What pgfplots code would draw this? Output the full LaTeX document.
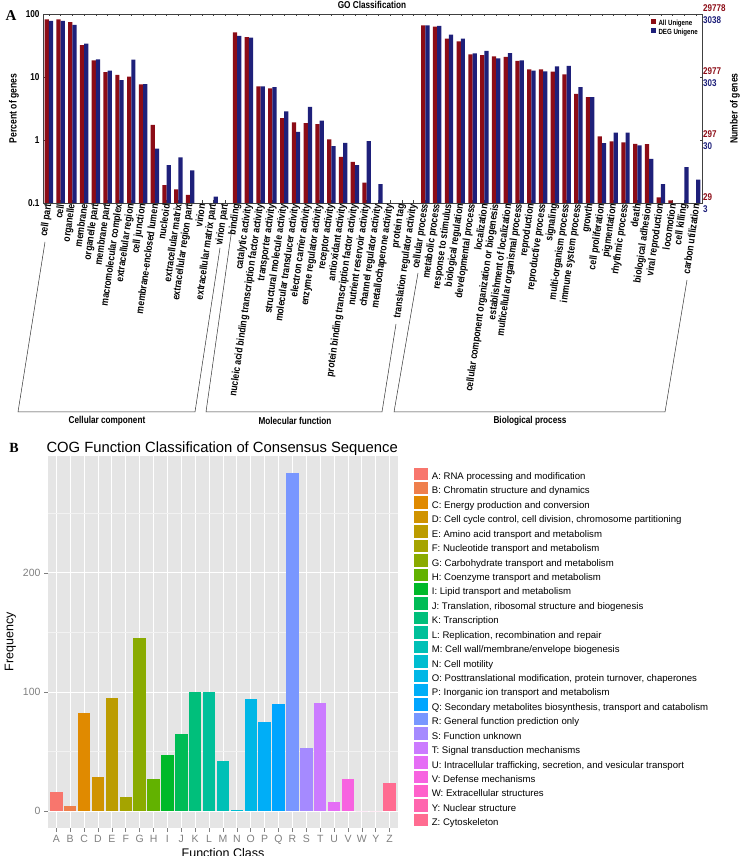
\documentclass[border=0pt]{standalone}
\usepackage{pgfplots}
\pgfplotsset{compat=1.18}
\usepackage{fontspec}
\setmainfont{Liberation Sans}
\newfontfamily\narrow[FakeStretch=0.82]{Liberation Sans}
\newfontfamily\serifA{Liberation Serif}
\definecolor{gored}{RGB}{140,12,22}
\definecolor{goblue}{RGB}{30,32,122}
\definecolor{ggbg}{HTML}{E5E5E5}
\definecolor{ggminor}{HTML}{F2F2F2}
\definecolor{ggtick}{HTML}{7F7F7F}
\definecolor{cA}{HTML}{F8766D}
\definecolor{cB}{HTML}{EF7F4C}
\definecolor{cC}{HTML}{E08A00}
\definecolor{cD}{HTML}{D09300}
\definecolor{cE}{HTML}{BC9C00}
\definecolor{cF}{HTML}{A5A400}
\definecolor{cG}{HTML}{8AAB00}
\definecolor{cH}{HTML}{62B200}
\definecolor{cI}{HTML}{00B92A}
\definecolor{cJ}{HTML}{00BC56}
\definecolor{cK}{HTML}{00BF7B}
\definecolor{cL}{HTML}{00C09A}
\definecolor{cM}{HTML}{00C0B6}
\definecolor{cN}{HTML}{00BDD0}
\definecolor{cO}{HTML}{00B7E6}
\definecolor{cP}{HTML}{00AEF7}
\definecolor{cQ}{HTML}{00A5FF}
\definecolor{cR}{HTML}{7997FF}
\definecolor{cS}{HTML}{A58AFF}
\definecolor{cT}{HTML}{CB7BFF}
\definecolor{cU}{HTML}{E56DF5}
\definecolor{cV}{HTML}{F763E0}
\definecolor{cW}{HTML}{FF61CB}
\definecolor{cY}{HTML}{FF65AE}
\definecolor{cZ}{HTML}{FF6C91}
\newcommand{\nb}[1]{\narrow\bfseries\fontsize{#1}{#1}\selectfont}
\begin{document}
\begin{tikzpicture}
\useasboundingbox (0pt,0pt) rectangle (740pt,856pt);
% ---------------- Panel A ----------------
\begin{axis}[
  at={(43pt,653pt)}, anchor=south west, scale only axis,
  width=659pt, height=189pt,
  xmin=-0.5, xmax=55.5, ymode=log, ymin=0.1, ymax=100, log origin=infty,
  ybar, bar width=0.36,
  axis line style={line width=0.5pt, black!75},
  xtick={0,...,55},
  xticklabels={cell part,cell,organelle,membrane,organelle part,membrane part,macromolecular complex,extracellular region,cell junction,membrane-enclosed lumen,nucleoid,extracellular matrix,extracellular region part,virion,extracellular matrix part,virion part,binding,catalytic activity,nucleic acid binding transcription factor activity,transporter activity,structural molecule activity,molecular transducer activity,electron carrier activity,enzyme regulator activity,receptor activity,antioxidant activity,protein binding transcription factor activity,nutrient reservoir activity,channel regulator activity,metallochaperone activity,protein tag,translation regulator activity,cellular process,metabolic process,response to stimulus,biological regulation,developmental process,localization,cellular component organization or biogenesis,establishment of localization,multicellular organismal process,reproduction,reproductive process,signaling,multi-organism process,immune system process,growth,cell proliferation,pigmentation,rhythmic process,death,biological adhesion,viral reproduction,locomotion,cell killing,carbon utilization},
  xticklabel style={rotate=82, anchor=east, inner sep=1pt, font=\nb{10.4}},
  ytick={0.1,1,10,100}, yticklabels={0.1,1,10,100}, ytick pos=left,
  yticklabel style={font=\nb{10}},
  yminorticks=false,
  tick align=inside, major tick length=2.5pt,
  tick style={black!75, line width=0.5pt},
  /pgf/number format/assume math mode=true,
  ylabel={Percent of genes}, ylabel style={font=\nb{10.5}},
  legend style={at={(rel axis cs:0.9226,0.975)}, anchor=north west, draw=none, fill=none,
     font=\nb{7.5}, row sep=0pt, inner sep=0pt, column sep=1.5pt, nodes={inner sep=0.6pt}},
  legend cell align=left,
  legend image code/.code={\fill[#1] (0pt,-0.2pt) rectangle (5.2pt,5pt);},
]
\addplot[fill=gored, draw=none, bar shift=-0.18] coordinates {
(0,82) (1,82) (2,74) (3,32) (4,18.4) (5,11.9) (6,10.8) (7,10.1) (8,7.65) (9,1.73)
(10,0.193) (11,0.165) (12,0.134)
(16,51) (17,43) (18,7.1) (19,6.6) (20,2.23) (21,1.9) (22,1.86) (23,1.78) (24,1.02) (25,0.54)
(26,0.45) (27,0.21)
(32,66) (33,63) (34,40.6) (35,36.8) (36,22.9) (37,22.3) (38,21.3) (39,20.8) (40,18) (41,13.2)
(42,13.2) (43,12.2) (44,11.0) (45,5.4) (46,4.8) (47,1.14) (48,0.95) (49,0.92) (50,0.87) (51,0.86)
(52,0.123) (53,0.110)
};
\addplot[fill=goblue, draw=none, bar shift=0.18] coordinates {
(0,78) (1,78) (2,67) (3,34) (4,19) (5,12.6) (6,8.95) (7,18.8) (8,7.7) (9,0.73)
(10,0.40) (11,0.53) (12,0.33) (14,0.126)
(16,45) (17,42) (18,7.1) (19,6.9) (20,2.85) (21,1.34) (22,3.34) (23,2.03) (24,0.80) (25,0.90)
(26,0.40) (27,0.96) (28,0.20)
(32,66) (33,64.5) (34,47) (35,40.6) (36,23.8) (37,25.9) (38,19.8) (39,24) (40,18.4) (41,12.6)
(42,12.3) (43,14.8) (44,15) (45,6.9) (46,4.8) (47,0.89) (48,1.31) (49,1.31) (50,0.82) (51,0.50)
(52,0.20) (54,0.37) (55,0.234)
};
\legend{All Unigene, DEG Unigene}
\end{axis}
\begin{axis}[
  at={(43pt,653pt)}, anchor=south west, scale only axis,
  width=659pt, height=189pt,
  xmin=-0.5, xmax=55.5, ymode=log, ymin=0.1, ymax=100,
  axis x line=none, axis y line*=right,
  axis line style={line width=0.5pt, black!75},
  ytick={0.1,1,10,100},
  yticklabels={{\textcolor{gored}{29}\\\textcolor{goblue}{3}},{\textcolor{gored}{297}\\\textcolor{goblue}{30}},{\textcolor{gored}{2977}\\\textcolor{goblue}{303}},{\textcolor{gored}{29778}\\\textcolor{goblue}{3038}}},
  yticklabel style={align=left, font=\narrow\bfseries\fontsize{9.8}{12}\selectfont, inner sep=1pt},
  yminorticks=false,
  tick align=inside, major tick length=2.5pt,
  tick style={black!75, line width=0.5pt},
  ylabel={Number of genes}, ylabel style={font=\nb{10.5}},
]
\end{axis}
% titles and brackets
\node[font=\nb{10}] at (372pt,851pt) {GO Classification};
\node[font=\serifA\bfseries\fontsize{15}{15}\selectfont] at (11pt,840pt) {A};
\draw[line width=0.5pt, black!80] (45pt,614pt) -- (18pt,444pt) -- (195pt,444pt) -- (220pt,608pt);
\draw[line width=0.5pt, black!80] (232pt,628pt) -- (206pt,444pt) -- (382pt,444pt) -- (396pt,532pt);
\draw[line width=0.5pt, black!80] (418pt,583pt) -- (394pt,444pt) -- (665pt,444pt) -- (687pt,576pt);
\node[font=\nb{10}] at (107pt,435pt) {Cellular component};
\node[font=\nb{10}] at (295pt,435pt) {Molecular function};
\node[font=\nb{10}] at (530pt,435pt) {Biological process};
% ---------------- Panel B ----------------
\node[font=\serifA\bfseries\fontsize{14}{14}\selectfont] at (14pt,408pt) {B};
\node[anchor=west, font=\fontsize{14.8}{16}\selectfont] at (43pt,407pt) {COG Function Classification of Consensus Sequence};
\begin{axis}[
  at={(48pt,28pt)}, anchor=south west, scale only axis,
  width=350pt, height=372pt,
  xmin=-0.6, xmax=24.6, ymin=-14.2, ymax=298.2,
  ybar, bar width=0.9,
  axis background/.style={fill=ggbg},
  axis line style={draw=none},
  xtick={0,...,24},
  xticklabels={A,B,C,D,E,F,G,H,I,J,K,L,M,N,O,P,Q,R,S,T,U,V,W,Y,Z},
  ytick={0,100,200}, minor ytick={50,150,250},
  xmajorgrids, ymajorgrids, yminorgrids,
  major grid style={white, line width=1pt},
  minor grid style={ggminor, line width=0.5pt},
  tick pos=left, tick align=outside, major tick length=4pt, minor tick length=0pt,
  tick style={ggtick, line width=0.6pt},
  ticklabel style={font=\fontsize{10.5}{12}\selectfont, text=ggtick},
  /pgf/number format/assume math mode=true,
  xlabel={Function Class}, ylabel={Frequency},
  label style={font=\fontsize{12.5}{14}\selectfont},
  xlabel style={yshift=3pt},
  legend style={at={(rel axis cs:1.043,0.972)}, anchor=north west, draw=none, fill=none,
     font=\fontsize{9.6}{11}\selectfont, row sep=0pt, inner sep=0pt, column sep=3pt,
     nodes={inner sep=0pt}},
  legend cell align=left,
  legend image code/.code={\filldraw[#1, draw=white, line width=0.6pt] (0pt,-3.5pt) rectangle (15pt,9.9pt);},
]
\addplot[fill=cA, draw=none, bar shift=0] coordinates {(0,16)};
\addlegendentry{A: RNA processing and modification}
\addplot[fill=cB, draw=none, bar shift=0] coordinates {(1,4)};
\addlegendentry{B: Chromatin structure and dynamics}
\addplot[fill=cC, draw=none, bar shift=0] coordinates {(2,82)};
\addlegendentry{C: Energy production and conversion}
\addplot[fill=cD, draw=none, bar shift=0] coordinates {(3,29)};
\addlegendentry{D: Cell cycle control, cell division, chromosome partitioning}
\addplot[fill=cE, draw=none, bar shift=0] coordinates {(4,95)};
\addlegendentry{E: Amino acid transport and metabolism}
\addplot[fill=cF, draw=none, bar shift=0] coordinates {(5,12)};
\addlegendentry{F: Nucleotide transport and metabolism}
\addplot[fill=cG, draw=none, bar shift=0] coordinates {(6,145)};
\addlegendentry{G: Carbohydrate transport and metabolism}
\addplot[fill=cH, draw=none, bar shift=0] coordinates {(7,27)};
\addlegendentry{H: Coenzyme transport and metabolism}
\addplot[fill=cI, draw=none, bar shift=0] coordinates {(8,47)};
\addlegendentry{I: Lipid transport and metabolism}
\addplot[fill=cJ, draw=none, bar shift=0] coordinates {(9,65)};
\addlegendentry{J: Translation, ribosomal structure and biogenesis}
\addplot[fill=cK, draw=none, bar shift=0] coordinates {(10,100)};
\addlegendentry{K: Transcription}
\addplot[fill=cL, draw=none, bar shift=0] coordinates {(11,100)};
\addlegendentry{L: Replication, recombination and repair}
\addplot[fill=cM, draw=none, bar shift=0] coordinates {(12,42)};
\addlegendentry{M: Cell wall/membrane/envelope biogenesis}
\addplot[fill=cN, draw=none, bar shift=0] coordinates {(13,1)};
\addlegendentry{N: Cell motility}
\addplot[fill=cO, draw=none, bar shift=0] coordinates {(14,94)};
\addlegendentry{O: Posttranslational modification, protein turnover, chaperones}
\addplot[fill=cP, draw=none, bar shift=0] coordinates {(15,75)};
\addlegendentry{P: Inorganic ion transport and metabolism}
\addplot[fill=cQ, draw=none, bar shift=0] coordinates {(16,90)};
\addlegendentry{Q: Secondary metabolites biosynthesis, transport and catabolism}
\addplot[fill=cR, draw=none, bar shift=0] coordinates {(17,284)};
\addlegendentry{R: General function prediction only}
\addplot[fill=cS, draw=none, bar shift=0] coordinates {(18,53)};
\addlegendentry{S: Function unknown}
\addplot[fill=cT, draw=none, bar shift=0] coordinates {(19,91)};
\addlegendentry{T: Signal transduction mechanisms}
\addplot[fill=cU, draw=none, bar shift=0] coordinates {(20,8)};
\addlegendentry{U: Intracellular trafficking, secretion, and vesicular transport}
\addplot[fill=cV, draw=none, bar shift=0] coordinates {(21,27)};
\addlegendentry{V: Defense mechanisms}
\addplot[fill=cW, draw=none, bar shift=0] coordinates {(22,0)};
\addlegendentry{W: Extracellular structures}
\addplot[fill=cY, draw=none, bar shift=0] coordinates {(23,0)};
\addlegendentry{Y: Nuclear structure}
\addplot[fill=cZ, draw=none, bar shift=0] coordinates {(24,24)};
\addlegendentry{Z: Cytoskeleton}
\end{axis}
\end{tikzpicture}
\end{document}
